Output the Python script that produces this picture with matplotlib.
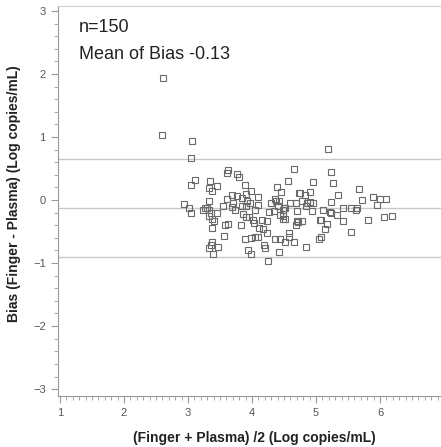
import matplotlib.pyplot as plt
import numpy as np

plt.rcParams['font.family'] = ['Liberation Sans', 'DejaVu Sans']

# mean of the two methods (log copies/mL)
mean_vals = [
    2.61, 2.60, 3.06, 3.04, 3.62, 3.61, 3.77, 3.79, 4.65, 3.11,
    3.04, 3.35, 3.32, 3.37, 3.46, 3.89, 3.98, 3.90, 3.68, 3.77,
    3.61, 3.85, 3.92, 3.97, 4.10, 4.10, 4.56, 4.39, 4.45, 4.73,
    4.36, 4.42, 4.68, 4.69, 3.32, 2.94, 3.02, 3.04, 3.24, 3.27,
    3.30, 3.32, 3.36, 3.32, 3.38, 3.40, 3.54, 3.69, 3.73, 3.85,
    3.86, 3.90, 3.95, 4.01, 4.05, 4.16, 4.24, 4.27, 4.34, 4.43,
    4.48, 4.51, 4.52, 4.70, 4.68, 4.71, 3.38, 3.62, 3.58, 3.82,
    4.03, 4.11, 4.17, 3.56, 3.37, 3.36, 3.33, 3.47, 3.39, 3.89,
    3.99, 4.04, 4.10, 4.24, 4.18, 4.20, 3.93, 3.98, 4.25, 4.36,
    4.43, 4.51, 4.57, 4.65, 4.42, 4.49,
    5.19, 5.23, 4.95, 5.26, 5.67, 5.35, 4.75, 4.82, 4.90, 5.72,
    5.89, 6.00, 6.09, 5.95, 5.23, 5.42, 5.55, 5.64, 5.63, 4.86,
    4.91, 4.95, 4.85, 4.94, 5.11, 5.22, 5.24, 5.33, 4.50, 4.49,
    4.49, 4.78, 4.72, 5.06, 5.07, 5.17, 5.42, 5.81, 6.07, 6.19,
    5.14, 5.55, 5.07, 5.05, 4.57, 4.84,
    3.90, 4.37, 4.40, 4.60, 4.30, 3.70, 4.78, 3.45,
]

# bias = finger - plasma (log copies/mL)
bias_vals = [
    1.94, 1.04, 0.94, 0.66, 0.47, 0.43, 0.42, 0.36, 0.50, 0.32,
    0.24, 0.30, 0.19, 0.15, 0.23, 0.24, 0.15, 0.10, 0.08, 0.06,
    0.02, 0.03, -0.02, -0.05, 0.05, -0.08, 0.30, 0.20, 0.13, 0.11,
    0.02, -0.02, -0.04, -0.05, -0.02, -0.06, -0.13, -0.21, -0.15, -0.13,
    -0.13, -0.16, -0.21, -0.26, -0.30, -0.33, -0.09, -0.11, -0.15, -0.10,
    -0.22, -0.27, -0.27, -0.32, -0.16, -0.31, -0.33, -0.19, -0.17, -0.24,
    -0.22, -0.30, -0.12, -0.17, -0.40, -0.34, -0.45, -0.38, -0.39, -0.40,
    -0.37, -0.44, -0.46, -0.57, -0.67, -0.71, -0.76, -0.75, -0.85, -0.62,
    -0.60, -0.58, -0.58, -0.52, -0.72, -0.76, -0.80, -0.86, -0.97, -0.62,
    -0.62, -0.66, -0.53, -0.67, -0.83, -0.16,
    0.81, 0.45, 0.29, 0.27, 0.17, 0.08, 0.12, 0.08, 0.13, 0.00,
    0.05, 0.02, 0.02, -0.08, -0.03, -0.12, -0.12, -0.12, -0.16, -0.04,
    -0.03, -0.04, -0.10, -0.17, -0.15, -0.19, -0.21, -0.23, -0.12, -0.25,
    -0.30, -0.33, -0.35, -0.31, -0.32, -0.38, -0.34, -0.32, -0.27, -0.25,
    -0.46, -0.50, -0.58, -0.61, -0.58, -0.74,
    -0.10, -0.01, -0.10, -0.05, -0.05, -0.05, -0.02, -0.20,
]

bias_mean = -0.13
upper_loa = 0.65
lower_loa = -0.91
n_label = 'n=150'
mean_label = 'Mean of Bias -0.13'

fig = plt.figure(figsize=(4.41, 4.47), dpi=100)
ax = fig.add_axes([0.1304, 0.114, 0.8764, 0.8726])

for yv in [upper_loa, bias_mean, lower_loa]:
    ax.axhline(yv, color='#c8c8c8', lw=1.0, zorder=1)

ax.plot(mean_vals, bias_vals, 's', ms=4.3, mfc='none', mec='#6a6a6a',
        mew=0.8, zorder=3)

ax.set_xlim(0.96, 7.0)
ax.set_ylim(-3.11, 3.08)
ax.set_xticks(np.arange(1, 8, 1))
ax.set_xticks(np.arange(1, 7.01, 0.1), minor=True)
ax.set_yticks(np.arange(-3, 4, 1))
ax.set_yticks(np.arange(-3, 3.01, 0.2), minor=True)

for side in ['left', 'bottom']:
    ax.spines[side].set_color('#999999')
ax.spines['top'].set_color('#d0d0d0')
ax.spines['right'].set_visible(False)
ax.tick_params(which='major', direction='out', length=5, width=0.8,
               color='#999999', labelsize=8, labelcolor='#555555')
ax.tick_params(which='minor', direction='out', length=3, width=0.6,
               color='#999999')

ax.text(0.055, 0.945, n_label, transform=ax.transAxes, fontsize=13,
        color='#222222', va='center')
ax.text(0.055, 0.875, mean_label, transform=ax.transAxes, fontsize=13,
        color='#222222', va='center')

ax.set_xlabel('(Finger + Plasma) /2 (Log copies/mL)', fontsize=10,
              fontweight='bold', color='#222222', labelpad=12)
ax.set_ylabel('Bias (Finger - Plasma) (Log copies/mL)', fontsize=10,
              fontweight='bold', color='#222222', labelpad=14)
ax.xaxis.set_label_coords(0.51, -0.09)
ax.yaxis.set_label_coords(-0.095, 0.52)

fig.savefig('out.png', dpi=100)
